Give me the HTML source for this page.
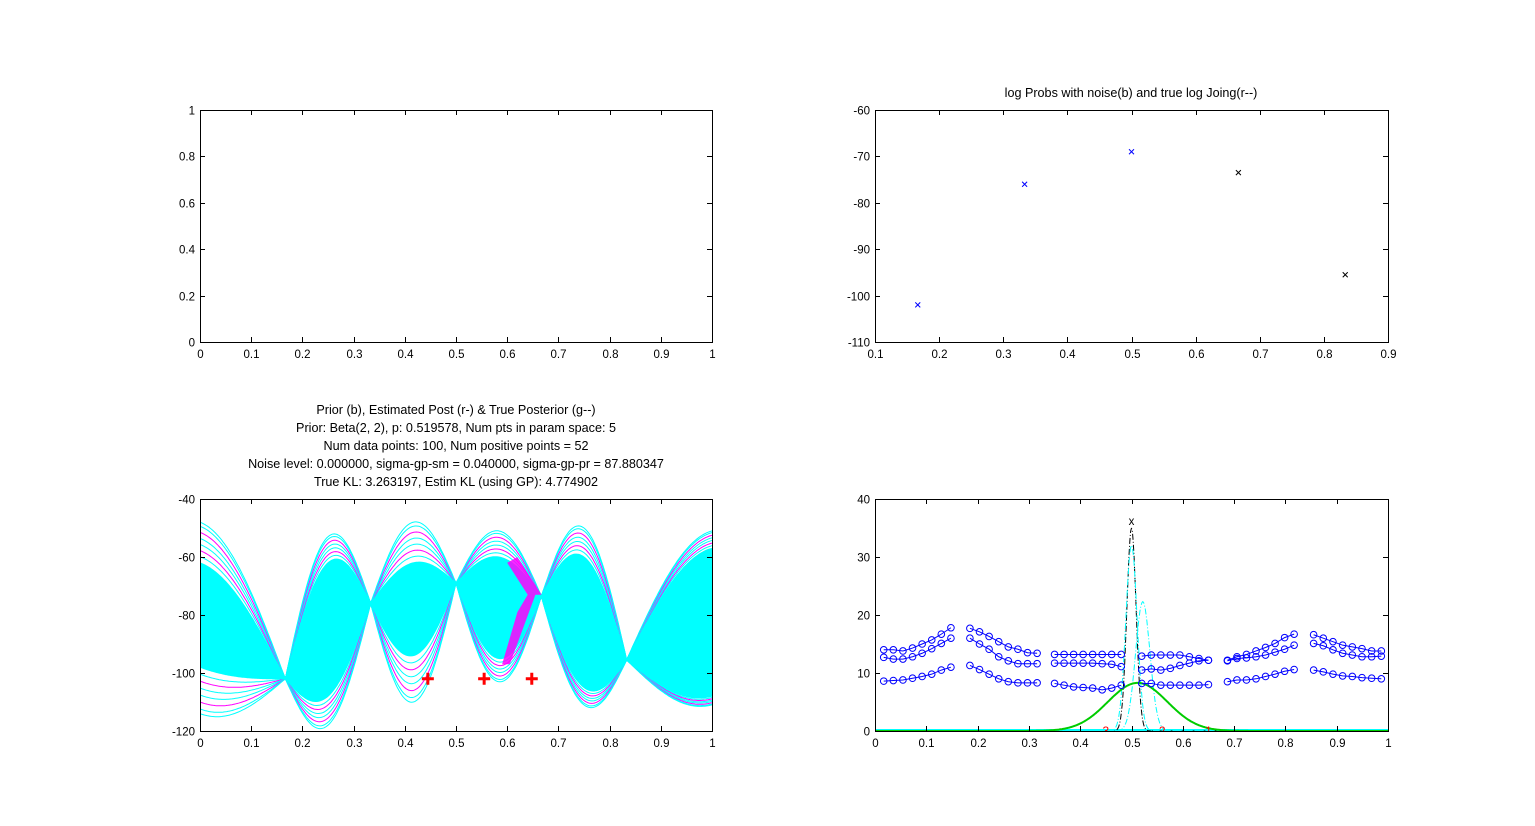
<!DOCTYPE html>
<html><head><meta charset="utf-8"><style>
html,body{margin:0;padding:0;background:#fff;}
svg text{font-family:"Liberation Sans",sans-serif;font-size:11.5px;fill:#000;}
svg text.ttl{font-size:12.6px;}
</style></head><body>
<svg id="fig" width="1535" height="821" viewBox="0 0 1535 821" xmlns="http://www.w3.org/2000/svg">
<rect width="1535" height="821" fill="#fff"/>
<g id="layer"></g>
</svg>
<script>
// ---------- data ----------
// top-right: log probs
const lpX = [0.1667, 0.3333, 0.5, 0.6667, 0.8333];
const lpY = [-102, -76, -69, -73.5, -95.5];
const lpColor = ['#00f','#00f','#00f','#000','#000'];
// bottom-left: sample curve band
const pinchX = [-0.1667, 0.1667, 0.3333, 0.5, 0.6667, 0.8333, 1.1667];
const pinchY = [-80, -102, -76, -69, -73.5, -95.5, -80];
const coreTop = [-62, -62, -62, -60, -60, -57];
const coreBot = [-98, -108, -94, -95, -105, -108];
const extTop = [-48, -53, -48, -51, -50, -51];
const extBot = [-114, -118, -110, -103, -111, -111];
const plusX = [0.445, 0.555, 0.648];
const plusY = [-102, -102, -102];
// magenta posterior band outline (data coords)
const magX = [0.6, 0.62, 0.667, 0.655, 0.605, 0.59, 0.62, 0.64];
const magY = [-62, -60, -73, -73, -97, -97, -79, -73];
// bottom-right: circle series (6 groups x 3 lines x 8 points)
const grpStart = [0.017, 0.185, 0.35, 0.52, 0.687, 0.855];
const grpEnd = [0.148, 0.316, 0.48, 0.65, 0.817, 0.987];
const grpTop = [[14.0,14.0,13.8,14.3,15.0,15.7,16.7,17.8],[17.7,17.1,16.3,15.4,14.5,14.1,13.5,13.4],[13.2,13.2,13.2,13.2,13.2,13.2,13.2,13.2],[12.9,13.1,13.1,13.1,13.1,12.8,12.5,12.2],[12.2,12.8,13.2,13.8,14.4,15.1,16.1,16.7],[16.6,16.0,15.4,14.8,14.5,14.2,13.8,13.8]];
const grpMid = [[12.7,12.4,12.4,12.8,13.4,14.2,15.1,16.0],[16.0,15.0,14.1,12.8,12.1,11.6,11.6,11.6],[11.7,11.7,11.7,11.7,11.7,11.6,11.5,11.1],[10.5,10.7,10.5,10.8,11.3,11.7,12.1,12.2],[12.1,12.5,12.6,12.8,13.1,13.6,14.1,14.8],[15.1,14.7,14.0,13.4,13.1,12.8,12.8,12.9]];
const grpLow = [[8.6,8.7,8.8,9.1,9.4,9.8,10.5,11.0],[11.3,10.6,9.8,9.0,8.5,8.3,8.3,8.3],[8.2,7.9,7.6,7.5,7.4,7.1,7.4,7.9],[8.2,8.2,7.9,7.9,7.9,7.9,7.9,8.0],[8.5,8.8,8.8,9.0,9.4,9.8,10.3,10.6],[10.5,10.2,9.8,9.5,9.4,9.2,9.1,9.0]];
// gaussian-like density curves: center, sigma, peak
const densCenter = [0.5, 0.5, 0.522, 0.512];
const densSigma = [0.009, 0.011, 0.014, 0.058];
const densPeak = [35, 32, 22.3, 8.3];
const densColor = ['#000','#0ff','#0ff','#0c0'];
const densDash = ['6,2,1,2','6,2,1,2','6,2,1,2',''];
const labelX = [0.45, 0.56, 0.65];
const labelTxt = ['3','2','1'];

// ---------- helpers ----------
const NS='http://www.w3.org/2000/svg';
const layer=document.getElementById('layer');
function mk(tag,attrs,parent){const e=document.createElementNS(NS,tag);for(const k in attrs)e.setAttribute(k,attrs[k]);(parent||layer).appendChild(e);return e;}
function axes(name,x0,y0,w,h,xmin,xmax,ymin,ymax,xt,yt,xfmt,yfmt){
  const g=mk('g',{});
  
  
  const sx=v=>x0+(v-xmin)/(xmax-xmin)*w, sy=v=>y0+h-(v-ymin)/(ymax-ymin)*h;
  const plot=mk('g',{},g);
  
  
  const frame=mk('g',{},g);
  mk('rect',{x:x0+0.5,y:y0+0.5,width:w,height:h,fill:'none',stroke:'#000','stroke-width':1},frame);
  xt.forEach(v=>{const X=Math.round(sx(v))+0.5;
    mk('line',{x1:X,x2:X,y1:y0+h,y2:y0+h-5,stroke:'#000'},frame);
    mk('line',{x1:X,x2:X,y1:y0,y2:y0+5,stroke:'#000'},frame);
    const t=mk('text',{x:X,y:y0+h+16,'text-anchor':'middle'},frame);t.textContent=xfmt(v);
    
    });
  yt.forEach(v=>{const Y=Math.round(sy(v))+0.5;
    mk('line',{x1:x0,x2:x0+5,y1:Y,y2:Y,stroke:'#000'},frame);
    mk('line',{x1:x0+w,x2:x0+w-5,y1:Y,y2:Y,stroke:'#000'},frame);
    const t=mk('text',{x:x0-5,y:Y+4,'text-anchor':'end'},frame);t.textContent=yfmt(v);
    
    });
  return {sx,sy,plot,frame,g};
}
const f1=v=>String(Math.round(v*10)/10);
const fi=v=>String(v);
const clipId=(id,x,y,w,h)=>{const d=mk('defs',{});const c=mk('clipPath',{id},d);mk('rect',{x,y,width:w,height:h},c);};

// ---------- top-left (empty) ----------
axes('empty-axes',200,110,512,232,0,1,0,1,[0,.1,.2,.3,.4,.5,.6,.7,.8,.9,1],[0,.2,.4,.6,.8,1],f1,f1);

// ---------- top-right ----------
const A=axes('log-probs-axes',875,110,513,232,0.1,0.9,-110,-60,[.1,.2,.3,.4,.5,.6,.7,.8,.9],[-110,-100,-90,-80,-70,-60],f1,fi);
let tt=mk('text',{x:1131,y:97,'text-anchor':'middle','class':'ttl'});tt.textContent='log Probs with noise(b) and true log Joing(r--)';


lpX.forEach((x,i)=>{const X=A.sx(x),Y=A.sy(lpY[i]);
  const p=mk('path',{d:`M${X-2.5},${Y-2.5}L${X+2.5},${Y+2.5}M${X-2.5},${Y+2.5}L${X+2.5},${Y-2.5}`,stroke:lpColor[i],'stroke-width':1},A.plot);
  
  });

// ---------- bottom-left ----------
clipId('clipBL',200,499,513,233);
const B=axes('samples-axes',200,499,512,232,0,1,-120,-40,[0,.1,.2,.3,.4,.5,.6,.7,.8,.9,1],[-120,-100,-80,-60,-40],f1,fi);
B.plot.setAttribute('clip-path','url(#clipBL)');
const titles=['Prior (b), Estimated Post (r-) & True Posterior (g--)','Prior: Beta(2, 2), p: 0.519578, Num pts in param space: 5','Num data points: 100, Num positive points = 52','Noise level: 0.000000, sigma-gp-sm = 0.040000, sigma-gp-pr = 87.880347','True KL: 3.263197, Estim KL (using GP): 4.774902'];
titles.forEach((s,i)=>{const t=mk('text',{x:456,y:414+i*18,'text-anchor':'middle','class':'ttl'});t.textContent=s;
  
  });
function bandY(x,fracTop,which){
  let i=0;while(i<pinchX.length-2&&x>pinchX[i+1])i++;
  const t=(x-pinchX[i])/(pinchX[i+1]-pinchX[i]);
  const base=pinchY[i]+(pinchY[i+1]-pinchY[i])*t;
  const mid=(pinchY[i]+pinchY[i+1])/2;
  const c=which==='top'?coreTop[i]:coreBot[i], e=which==='top'?extTop[i]:extBot[i];
  const target=c+(e-c)*fracTop;
  return base+(target-mid)*Math.sin(Math.PI*t);
}
function bandPath(frac,which){let d='';for(let k=0;k<=400;k++){const x=k/400;d+=(k?'L':'M')+B.sx(x).toFixed(1)+','+B.sy(bandY(x,frac,which)).toFixed(1);}return d;}
[0.15,0.3,0.45,0.6,0.75,0.9,1].forEach((f,j)=>{['top','bot'].forEach(w=>{
  const p=mk('path',{d:bandPath(f,w),fill:'none',stroke:(j%3===1)?'#f0f':'#0ff','stroke-width':1},B.plot);
  
  });});
let core='';for(let k=0;k<=400;k++){const x=k/400;core+=(k?'L':'M')+B.sx(x).toFixed(1)+','+B.sy(bandY(x,0,'top')).toFixed(1);}
for(let k=400;k>=0;k--){const x=k/400;core+='L'+B.sx(x).toFixed(1)+','+B.sy(bandY(x,0,'bot')).toFixed(1);}
const coreEl=mk('path',{d:core+'Z',fill:'#0ff',stroke:'#0ff'},B.plot);


const mp=magX.map((x,i)=>B.sx(x).toFixed(1)+','+B.sy(magY[i]).toFixed(1)).join(' ');
const mag=mk('polygon',{points:mp,fill:'#f0f','fill-opacity':0.85},B.plot);


plusX.forEach((x,i)=>{const X=B.sx(x),Y=B.sy(plusY[i]);
  const p=mk('path',{d:`M${X-6},${Y}L${X+6},${Y}M${X},${Y-6}L${X},${Y+6}`,stroke:'#f00','stroke-width':3},B.plot);
  
  });

// ---------- bottom-right ----------
clipId('clipBR',875,499,514,233);
const C=axes('posterior-axes',875,499,513,232,0,1,0,40,[0,.1,.2,.3,.4,.5,.6,.7,.8,.9,1],[0,10,20,30,40],f1,fi);
C.plot.setAttribute('clip-path','url(#clipBR)');
const base=mk('line',{x1:C.sx(0),x2:C.sx(1),y1:C.sy(0)-1,y2:C.sy(0)-1,stroke:'#0ff','stroke-width':2},C.plot);


densCenter.forEach((c,i)=>{let d='';for(let k=0;k<=600;k++){const x=k/600;const v=densPeak[i]*Math.exp(-0.5*((x-c)/densSigma[i])**2);d+=(k?'L':'M')+C.sx(x).toFixed(1)+','+C.sy(v).toFixed(1);}
  const p=mk('path',{d,fill:'none',stroke:densColor[i],'stroke-width':i===3?2:1,'stroke-dasharray':densDash[i]},C.plot);
  
  });
let xm=mk('text',{x:C.sx(0.5),y:C.sy(36)+3,'text-anchor':'middle','font-size':'8'},C.plot);xm.textContent='x';
[grpTop,grpMid,grpLow].forEach(G=>G.forEach((vals,gi)=>{
  const n=vals.length;const pts=vals.map((v,k)=>[C.sx(grpStart[gi]+(grpEnd[gi]-grpStart[gi])*k/(n-1)),C.sy(v)]);
  const l=mk('polyline',{points:pts.map(p=>p.join(',')).join(' '),fill:'none',stroke:'#00f'},C.plot);
  
  
  pts.forEach(p=>{const c=mk('circle',{cx:p[0],cy:p[1],r:3.3,fill:'none',stroke:'#00f'},C.plot);
    
    });
}));
labelX.forEach((x,i)=>{const t=mk('text',{x:C.sx(x),y:C.sy(0)+4,'text-anchor':'middle',style:'fill:#f00;font-size:12px'},C.plot);t.textContent=labelTxt[i];
  
  });
</script>
</body></html>
